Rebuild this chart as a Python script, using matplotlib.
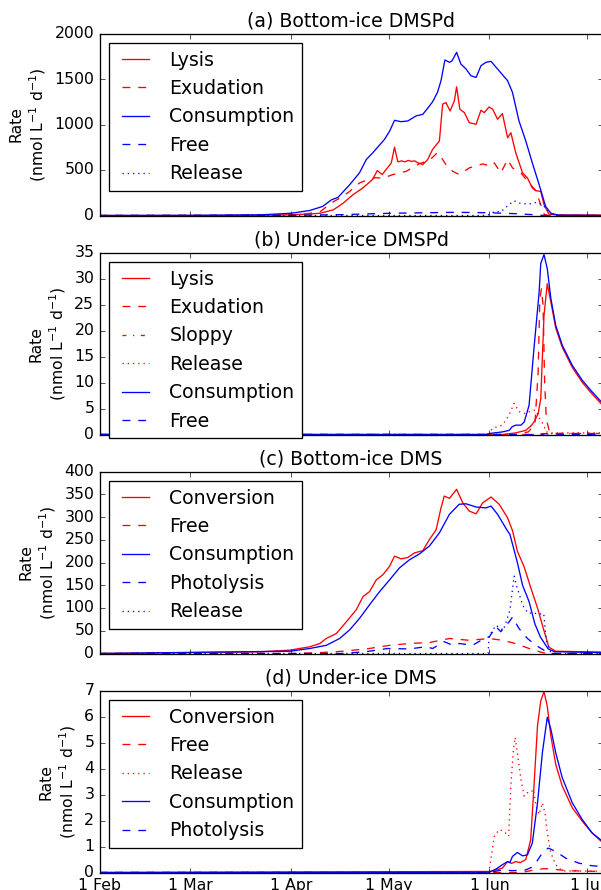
import numpy as np
import matplotlib
matplotlib.use("Agg")
import matplotlib.pyplot as plt
import matplotlib.dates as mdates

plt.style.use('classic')
plt.rcParams['figure.facecolor'] = 'white'
plt.rcParams['savefig.facecolor'] = 'white'
plt.rcParams['mathtext.default'] = 'regular'

START = np.datetime64('2015-02-01')

# days since 1 Feb / rate (nmol L-1 d-1)
# (a) bottom-ice DMSPd
a_lysis_day = [0, 30, 50, 59, 65, 68, 72, 75, 78, 81, 84, 85.5, 87, 89.8, 90.8, 91.8,
               93, 94, 95, 96, 97, 98, 99.5, 101, 102.5, 104.6, 105.6, 106.6, 107.9,
               109.2, 109.9, 110.9, 112.3, 113.8, 115.9, 117.4, 118.4, 119.9, 121,
               122.5, 124, 125.6, 126.6, 128.1, 130.2, 131.7, 133.2, 134.3, 135.8,
               136.8, 138.3, 141, 155]
a_lysis = [0, 0, 2, 8, 18, 25, 63, 136, 228, 302, 394, 494, 450, 578, 751, 590,
           600, 590, 605, 595, 600, 580, 560, 615, 726, 818, 1223, 1241, 1149,
           1260, 1414, 1168, 1130, 1020, 1002, 1157, 1130, 1193, 1168,
           1058, 1120, 854, 910, 689, 468, 413, 302, 273, 265,
           118, 15, 6, 5]
a_exud_day = [0, 50, 59, 64, 68, 71.4, 73.9, 77, 80, 83, 85, 87.2, 90.3, 94.4, 98.5,
              101.5, 104, 104.6, 106.6, 108.7, 110.7, 113.8, 117.9, 120.5, 121.5,
              123.5, 125.6, 127.1, 129.7, 132.2, 134.3, 135.8, 136.8, 138, 155]
a_exud = [0, 1, 5, 20, 44, 140, 190, 265, 357, 400, 415, 410, 450, 486, 570,
          605, 690, 670, 560, 486, 450, 523, 567, 541, 578,
          468, 615, 523, 468, 357, 273, 118, 15, 0, 0]
a_cons_day = [0, 30, 50, 59, 64.7, 68.7, 71.4, 73.4, 77, 80, 82.1, 84.1, 87.7, 89.3,
              90.8, 92.8, 94.9, 97.4, 99.5, 101, 102.5, 104, 105.1, 106.3, 107.7,
              108.5, 109.9, 111.2, 112.8, 114.3, 115.9, 117.4, 118.9, 120.5, 122.5,
              125.6, 127.1, 129.1, 131.2, 133.2, 135.3, 137.3, 138.9, 141.4, 155]
a_cons = [0, 2, 8, 25, 55, 100, 173, 199, 339, 468, 615, 689, 836, 928,
          1046, 1031, 1039, 1094, 1112, 1179, 1249, 1352, 1481, 1709, 1683,
          1700, 1793, 1665, 1610, 1536, 1517, 1646, 1683, 1694, 1610,
          1481, 1352, 1039, 818, 578, 339, 100, 25, 3, 0]
a_free_day = [0, 60, 75, 90, 100, 110, 120, 128, 133, 137, 155]
a_free = [0, 2, 10, 25, 30, 35, 30, 20, 10, 0, 0]
a_rel_day = [0, 118, 120, 121.5, 123.5, 126, 127.6, 129, 132, 134.8, 136.8, 139.4, 141, 155]
a_rel = [0, 0, 10, 44, 40, 118, 162, 136, 125, 147, 100, 8, 0, 0]

# (b) under-ice DMSPd
b_lysis_day = [0, 124, 128, 131.2, 133, 133.7, 135, 135.8, 136.8, 137.8, 138.9,
               140.4, 142.4, 145.5, 148.6, 151.6, 155]
b_lysis = [0, 0, 0.3, 0.8, 1.8, 2.4, 4, 6.9, 22.9, 29, 25.5,
           20.5, 16.8, 12.9, 10.0, 7.8, 5.5]
b_exud_day = [0, 128, 132, 134, 135, 135.5, 136, 136.5, 137, 137.5, 138.5, 140, 155]
b_exud = [0, 0, 0.5, 2, 12, 26, 28, 25, 10, 3, 0.5, 0.2, 0.2]
b_sloppy_day = [0, 136, 138, 155]
b_sloppy = [0, 0, 0.2, 0.2]
b_rel_day = [0, 119.5, 121, 124, 126, 127.6, 129.1, 131.2, 132.7, 134.2, 135.5,
             136.5, 137.5, 139, 155]
b_rel = [0, 0, 1.2, 1.8, 3.7, 6.0, 4.4, 4.0, 4.5, 4.7, 3.0, 2.0, 0.5, 0.3, 0.3]
b_cons_day = [0, 119, 120, 124, 126.1, 127, 128.1, 129.7, 130.7, 132.2, 133.7, 135.3,
              135.8, 136.8, 137.8, 138.9, 140.4, 142.4, 145.5, 148.6, 151.6, 155]
b_cons = [0, 0, 0.2, 0.5, 0.8, 1.5, 1.8, 1.8, 2.4, 5.6, 16.5, 27.4,
          32.9, 34.6, 31.9, 26.2, 21, 17.2, 13.3, 10.4, 8.2, 5.9]
b_free_day = [0, 134, 137, 140, 155]
b_free = [0, 0, 0.15, 0.05, 0.02]

# (c) bottom-ice DMS
c_conv_day = [0, 49.4, 58.6, 64.7, 67.8, 69.8, 72.9, 76, 79, 81.1, 83.1, 85.2, 87.2,
              89.3, 90.8, 92.8, 94.9, 96.9, 99.5, 101.5, 103.6, 105.1, 106.1, 107.7,
              109.9, 111.8, 113.8, 115.9, 117.9, 120.5, 123, 125.6, 127.1, 128.6,
              130.7, 132.7, 134.8, 136.8, 138.3, 140.4, 155]
c_conv = [0, 3.7, 7.4, 14.7, 22, 33, 44, 70, 96, 125, 136, 162, 173,
          192, 214, 208, 211, 221, 226, 250, 272, 320, 346, 341,
          361, 331, 313, 307, 331, 344, 328, 298, 270, 225,
          190, 145, 100, 50, 14, 5, 3]
c_cons_day = [0, 58.6, 64.7, 69.8, 73.9, 77, 80, 83.1, 86.2, 89.3, 92.3, 95.4, 98.5,
              101.5, 104.6, 107.7, 110.7, 112.8, 115.9, 118.9, 120.5, 122.5, 125.6,
              126.3, 128.6, 130.2, 132.2, 134, 135.7, 138.1, 140, 155]
c_cons = [0, 5, 11, 18, 33, 52, 77, 107, 136, 162, 188, 206, 219,
          236, 265, 306, 328, 329, 322, 320, 324, 306, 269,
          262, 200, 150, 114, 65, 36, 10, 4, 2]
c_free_day = [0, 60, 68, 75, 83, 89.3, 95.4, 101.5, 107.7, 113.8, 120, 124, 128,
              132.2, 136.3, 138, 155]
c_free = [0, 0, 2, 5, 11, 18, 22, 24, 33, 29, 33, 29, 22, 11, 2, 0, 0]
c_phot_day = [0, 75, 83, 88.7, 95.4, 100.5, 102.5, 106.1, 108.7, 110.7, 114.8, 118.4,
              120, 122, 123.5, 126.1, 127.1, 129.1, 131.7, 134.3, 137.3, 139, 155]
c_phot = [0, 0, 5, 11, 10, 15, 11, 26, 18, 22, 18, 33,
          37, 59, 48, 70, 80, 55, 33, 18, 5, 0, 0]
c_rel_day = [0, 119.6, 119.9, 122, 124.3, 126.3, 127.6, 128.3, 130.3, 132, 133.4,
             135, 136.7, 137.5, 138.8, 140.4, 155]
c_rel = [0, 0, 38, 62, 51, 95, 170, 150, 105, 88, 90, 86, 88, 28, 4, 0, 0]

# (d) under-ice DMS
d_conv_day = [0, 120, 122, 124, 125.6, 126.8, 128.1, 129.5, 131.2, 132.7, 133.7,
              134.8, 135.8, 136.8, 137.8, 138.9, 140.4, 142.4, 145.5, 148.6, 151.6, 155]
d_conv = [0, 0.04, 0.1, 0.17, 0.42, 0.35, 0.42, 0.38, 0.5, 1.26, 3.3,
          5.65, 6.6, 6.96, 6.4, 5.26, 4.16, 3.33, 2.49, 1.97, 1.52, 1.13]
d_free_day = [0, 128, 131, 134, 137, 140, 144, 150, 155]
d_free = [0, 0, 0.03, 0.1, 0.15, 0.12, 0.07, 0.05, 0.04]
d_rel_day = [0, 119.8, 120.5, 121.5, 123, 124.5, 125.9, 126.6, 127.3, 127.9, 128.6,
             129.7, 130.7, 131.7, 132.7, 133.5, 134.4, 135.3, 136.3, 137.1, 137.8,
             138.9, 140.4, 142.4, 155]
d_rel = [0, 0, 0.55, 1.39, 1.65, 1.58, 1.39, 3.33, 4.61, 5.2, 4.61,
         3.58, 2.94, 3.07, 3.07, 3.2, 2.55, 2.23, 2.68, 2.29, 1.52,
         0.75, 0.3, 0.06, 0.05]
d_cons_day = [0, 120, 122, 124, 125.6, 126.3, 127.1, 128.6, 130.2, 131.7, 133.2,
              134.8, 136.3, 137.8, 138.9, 140.4, 142.4, 145.5, 148.6, 151.6, 155]
d_cons = [0, 0.01, 0.13, 0.3, 0.42, 0.38, 0.62, 0.77, 0.64, 0.68, 1.13,
          2.68, 4.61, 5.97, 5.52, 4.61, 3.65, 2.68, 2.03, 1.52, 1.18]
d_phot_day = [0, 120, 124, 127, 131.2, 133, 134.2, 136.3, 138.1, 140.4, 143.5,
              147.5, 151.6, 155]
d_phot = [0, 0, 0.1, 0.07, 0.1, 0.2, 0.36, 0.75, 0.94, 0.81, 0.55, 0.36, 0.26, 0.23]


def to_dates(days):
    minutes = np.round(np.asarray(days, dtype=float) * 1440).astype(int)
    return START + minutes.astype('timedelta64[m]')


panels = [
    ("(a) Bottom-ice DMSPd", 2000, 500, [
        ("Lysis", a_lysis_day, a_lysis, 'r', '-'),
        ("Exudation", a_exud_day, a_exud, 'r', '--'),
        ("Consumption", a_cons_day, a_cons, 'b', '-'),
        ("Free", a_free_day, a_free, 'b', '--'),
        ("Release", a_rel_day, a_rel, 'b', ':'),
    ]),
    ("(b) Under-ice DMSPd", 35, 5, [
        ("Lysis", b_lysis_day, b_lysis, 'r', '-'),
        ("Exudation", b_exud_day, b_exud, 'r', '--'),
        ("Sloppy", b_sloppy_day, b_sloppy, 'r', '-.'),
        ("Release", b_rel_day, b_rel, 'r', ':'),
        ("Consumption", b_cons_day, b_cons, 'b', '-'),
        ("Free", b_free_day, b_free, 'b', '--'),
    ]),
    ("(c) Bottom-ice DMS", 400, 50, [
        ("Conversion", c_conv_day, c_conv, 'r', '-'),
        ("Free", c_free_day, c_free, 'r', '--'),
        ("Consumption", c_cons_day, c_cons, 'b', '-'),
        ("Photolysis", c_phot_day, c_phot, 'b', '--'),
        ("Release", c_rel_day, c_rel, 'b', ':'),
    ]),
    ("(d) Under-ice DMS", 7, 1, [
        ("Conversion", d_conv_day, d_conv, 'r', '-'),
        ("Free", d_free_day, d_free, 'r', '--'),
        ("Release", d_rel_day, d_rel, 'r', ':'),
        ("Consumption", d_cons_day, d_cons, 'b', '-'),
        ("Photolysis", d_phot_day, d_phot, 'b', '--'),
    ]),
]

W, H, DPI = 601, 890, 94.5
fig = plt.figure(figsize=(W / DPI, H / DPI), dpi=DPI)

x_end = to_dates([154.8])[0]
left_px, right_px = 99.5, 602.5
axes = []
for i, (title, ymax, ystep, series) in enumerate(panels):
    top_px = 33.5 + 219 * i
    ax = fig.add_axes([left_px / W, 1 - (top_px + 182) / H,
                       (right_px - left_px) / W, 182 / H])
    for label, days, vals, color, ls in series:
        ax.plot(to_dates(days), vals, color=color, linestyle=ls, lw=1, label=label)
    ax.set_xlim(START, x_end)
    ax.set_ylim(0, ymax)
    ax.set_yticks(np.arange(0, ymax + ystep / 2, ystep))
    ax.set_title(title)
    ax.set_ylabel("Rate\n(nmol L$^{-1}$ d$^{-1}$)")
    ax.legend(loc='upper left')
    ax.xaxis.set_major_locator(mdates.MonthLocator())
    ax.xaxis.set_major_formatter(mdates.DateFormatter('%-d %b'))
    if i < len(panels) - 1:
        ax.tick_params(labelbottom=False)
    axes.append(ax)

fig.savefig('out.png', dpi=DPI)
